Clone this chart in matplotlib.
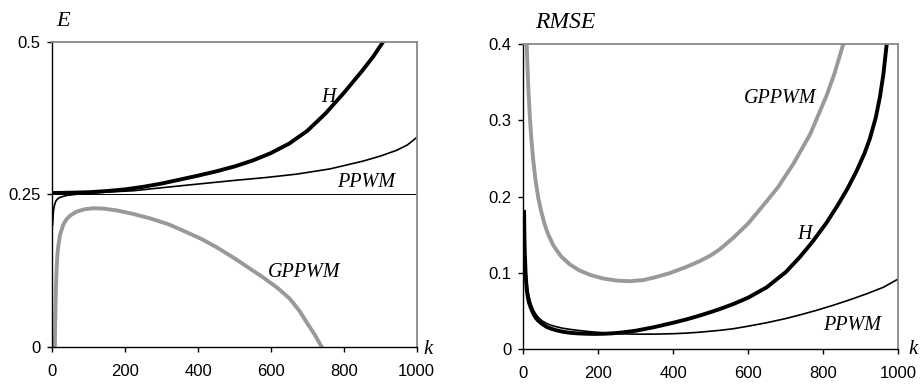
import matplotlib
matplotlib.use("Agg")
from matplotlib import pyplot as plt

# --- left panel: E versus k ---
k_h_e = [0, 50, 100, 150, 200, 250, 300, 350, 400, 450, 500, 550, 600, 650,
         700, 750, 800, 850, 880, 908]
h_e = [0.252, 0.2525, 0.2533, 0.2552, 0.258, 0.2622, 0.2675, 0.274, 0.2805,
       0.2875, 0.2955, 0.3053, 0.3175, 0.333, 0.354, 0.3825, 0.416, 0.452,
       0.475, 0.500]

k_ppwm_e = [1, 3, 6, 10, 15, 20, 30, 40, 70, 100, 150, 222, 314, 405, 497, 588,
            671, 762, 854, 900, 945, 975, 1000]
ppwm_e = [0.200, 0.222, 0.232, 0.239, 0.2425, 0.2445, 0.2465, 0.248, 0.2502,
          0.2515, 0.2535, 0.2557, 0.2615, 0.267, 0.2725, 0.2775, 0.283, 0.2915,
          0.3045, 0.3125, 0.322, 0.331, 0.343]

k_gppwm_e = [7, 8, 9, 10, 12, 14, 16, 21, 30, 39, 50, 67, 90, 113, 140, 177, 220,
             268, 320, 360, 410, 451, 488, 515, 550, 579, 620, 652, 680, 698,
             720, 739]
gppwm_e = [0.0, 0.04, 0.07, 0.095, 0.128, 0.15, 0.163, 0.183, 0.200, 0.209,
           0.2155, 0.2215, 0.2255, 0.227, 0.2265, 0.2235, 0.218, 0.2105, 0.2005,
           0.190, 0.1765, 0.163, 0.1495, 0.139, 0.125, 0.1135, 0.0955, 0.0785,
           0.0575, 0.040, 0.020, 0.0]

# --- right panel: RMSE versus k ---
k_gppwm_r = [9, 11, 14, 18, 22, 27, 33, 40, 48, 56, 65, 80, 100, 124, 150, 180,
             213, 250, 284, 320, 350, 390, 436, 471, 500, 524, 560, 600, 649,
             680, 720, 765, 809, 830, 853]
gppwm_r = [0.40, 0.37, 0.335, 0.30, 0.272, 0.245, 0.22, 0.198, 0.18, 0.165,
           0.152, 0.136, 0.122, 0.111, 0.103, 0.097, 0.0925, 0.0898, 0.089,
           0.0905, 0.094, 0.0995, 0.108, 0.1155, 0.123, 0.131, 0.146, 0.165,
           0.194, 0.213, 0.243, 0.282, 0.333, 0.362, 0.40]

k_h_r = [2, 3, 4, 6, 9, 12, 15, 20, 27, 33, 40, 50, 62, 75, 90, 105, 124, 145,
         169, 190, 213, 235, 258, 300, 347, 400, 436, 471, 500, 524, 560, 600,
         649, 700, 738, 770, 809, 840, 865, 889, 910, 924, 940, 951, 960, 969]
h_r = [0.18, 0.145, 0.125, 0.10, 0.078, 0.068, 0.061, 0.054, 0.046, 0.041,
       0.037, 0.033, 0.029, 0.0265, 0.0243, 0.0227, 0.0213, 0.0205, 0.0200,
       0.0198, 0.0200, 0.0205, 0.0214, 0.024, 0.0285, 0.0345, 0.039, 0.044,
       0.0485, 0.0525, 0.059, 0.0675, 0.081, 0.101, 0.121, 0.140, 0.166, 0.190,
       0.211, 0.234, 0.257, 0.276, 0.304, 0.331, 0.360, 0.40]

k_ppwm_r = [2, 3, 4, 6, 9, 12, 15, 20, 27, 33, 40, 50, 62, 75, 90, 105, 124, 145,
            169, 190, 213, 258, 300, 347, 400, 436, 471, 524, 560, 600, 649, 700,
            738, 780, 827, 870, 916, 960, 1000]
ppwm_r = [0.18, 0.155, 0.135, 0.108, 0.09, 0.078, 0.07, 0.06, 0.051, 0.046,
          0.0415, 0.037, 0.0335, 0.031, 0.029, 0.0273, 0.0258, 0.0245, 0.0232,
          0.0222, 0.0213, 0.0200, 0.0195, 0.0195, 0.0201, 0.0209, 0.0221,
          0.0245, 0.0266, 0.030, 0.0345, 0.040, 0.0448, 0.0505, 0.0575, 0.0645,
          0.0725, 0.081, 0.092]

x_ticks = [0, 200, 400, 600, 800, 1000]
e_ticks = [0, 0.25, 0.5]
e_labels = ["0", "0.25", "0.5"]
r_ticks = [0, 0.1, 0.2, 0.3, 0.4]
r_labels = ["0", "0.1", "0.2", "0.3", "0.4"]

GRAY = "#999999"
SANS = "Liberation Sans"
SERIF = "Liberation Serif"

fig = plt.figure(figsize=(9.22, 3.85), dpi=100)
ax1 = fig.add_axes([0.0567, 0.0995, 0.3952, 0.792])
ax2 = fig.add_axes([0.5676, 0.0935, 0.4067, 0.7914])


def style(ax):
    ax.set_xlim(0, 1000)
    ax.set_xticks(x_ticks)
    ax.set_xticklabels([str(t) for t in x_ticks], fontfamily=SANS, fontsize=12)
    for s in ("top", "right"):
        ax.spines[s].set_color("#888888")
        ax.spines[s].set_linewidth(1.3)
    for s in ("left", "bottom"):
        ax.spines[s].set_color("black")
        ax.spines[s].set_linewidth(1.0)
    ax.tick_params(direction="out", length=3.5, width=1.0)
    ax.tick_params(axis="x", pad=9)
    ax.tick_params(axis="y", pad=5)


def label(ax, x, y, s):
    ax.text(x, y, s, style="italic", family=SERIF, fontsize=14.5,
            ha="center", va="center")


# left
ax1.axhline(0.25, color="black", lw=0.7)
ax1.plot(k_gppwm_e, gppwm_e, color=GRAY, lw=2.8)
ax1.plot(k_ppwm_e, ppwm_e, color="black", lw=1.2)
ax1.plot(k_h_e, h_e, color="black", lw=2.8)
ax1.set_ylim(0, 0.5)
style(ax1)
ax1.set_yticks(e_ticks)
ax1.set_yticklabels(e_labels, fontfamily=SANS, fontsize=12)
label(ax1, 757, 0.409, "H")
label(ax1, 861, 0.270, "PPWM")
label(ax1, 691, 0.121, "GPPWM")
fig.text(63 / 922, 1 - 22 / 385, "E", style="italic", family=SERIF, fontsize=16,
         ha="center", va="center")
fig.text(428 / 922, 1 - 349 / 385, "k", style="italic", family=SERIF, fontsize=15,
         ha="center", va="center")

# right
ax2.plot(k_gppwm_r, gppwm_r, color=GRAY, lw=2.8)
ax2.plot(k_ppwm_r, ppwm_r, color="black", lw=1.2)
ax2.plot(k_h_r, h_r, color="black", lw=2.8)
ax2.set_ylim(0, 0.4)
style(ax2)
ax2.set_yticks(r_ticks)
ax2.set_yticklabels(r_labels, fontfamily=SANS, fontsize=12)
label(ax2, 684, 0.329, "GPPWM")
label(ax2, 749, 0.150, "H")
label(ax2, 876, 0.0315, "PPWM")
fig.text(565 / 922, 1 - 22 / 385, "RMSE", style="italic", family=SERIF, fontsize=17,
         ha="center", va="center")
fig.text(913 / 922, 1 - 350 / 385, "k", style="italic", family=SERIF, fontsize=15,
         ha="center", va="center")

fig.savefig("out.png", dpi=100)
